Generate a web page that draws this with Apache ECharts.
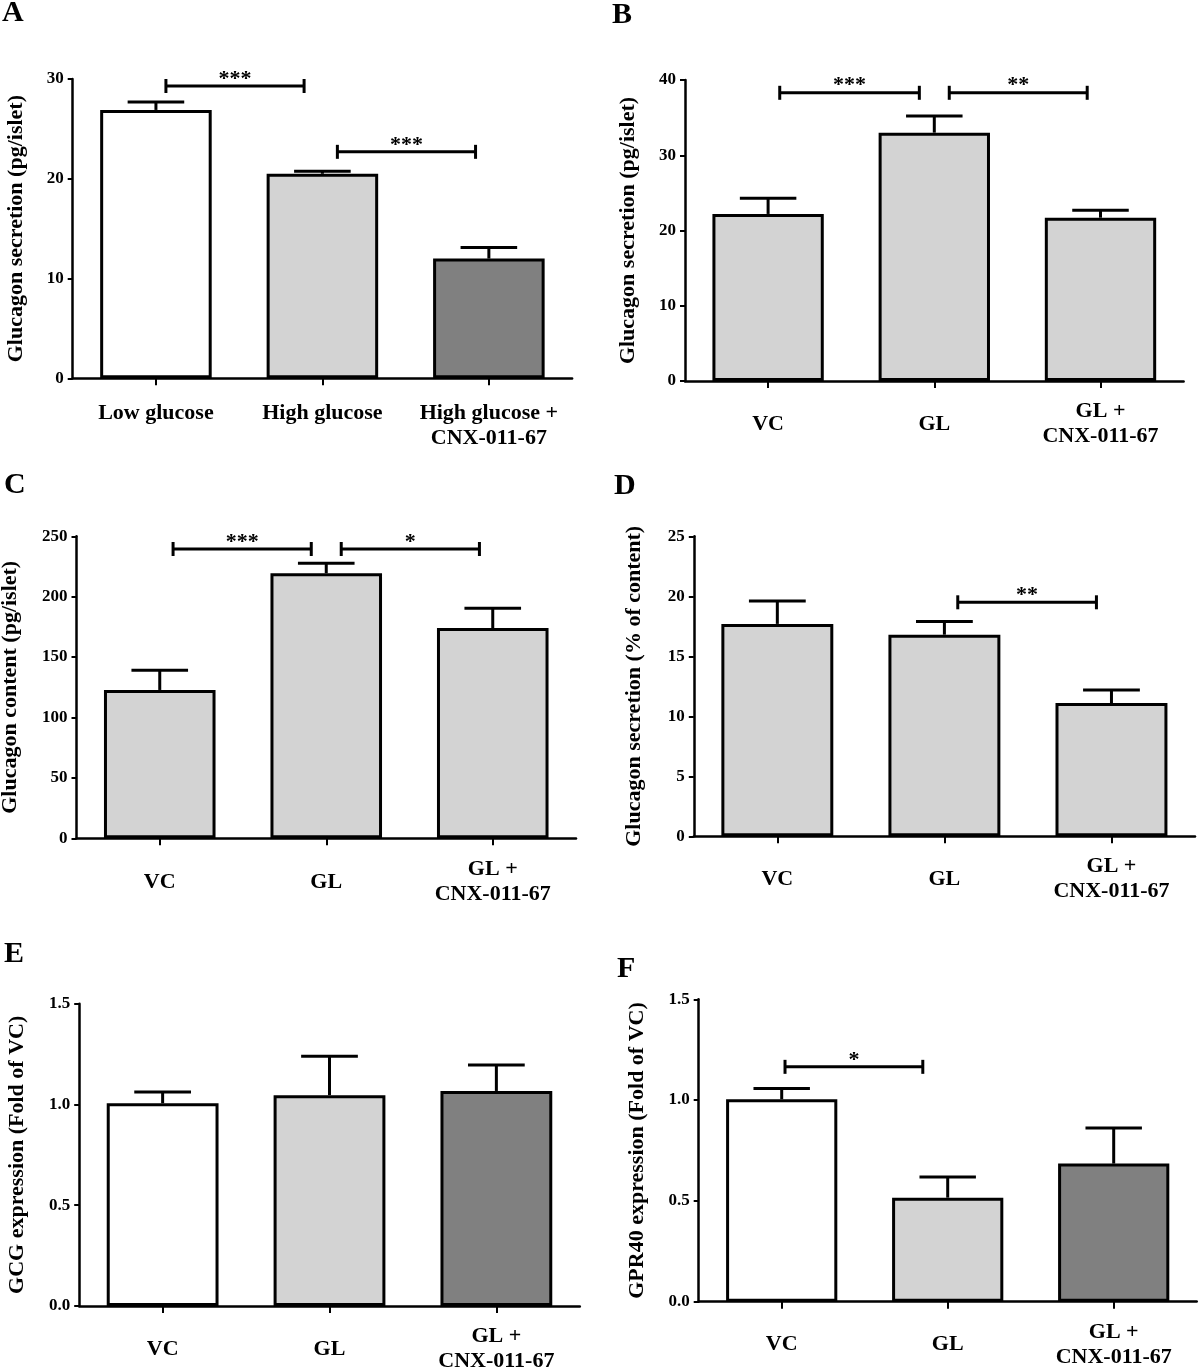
<!DOCTYPE html>
<html><head><meta charset="utf-8">
<script src="https://cdn.jsdelivr.net/npm/echarts@6/dist/echarts.min.js"></script>
<style>html,body{margin:0;padding:0;background:#fff}#c{width:1200px;height:1369px}</style>
</head><body><div id="c"></div>
<script>
// ---------- data ----------
const catsA = ['Low glucose', 'High glucose', 'High glucose +\nCNX-011-67'];
const catsGL = ['VC', 'GL', 'GL +\nCNX-011-67'];

const meanA = [26.9, 20.5, 12.0];     const semA = [0.8, 0.25, 1.1];
const meanB = [22.2, 33.0, 21.7];     const semB = [2.1, 2.2, 1.0];
const meanC = [122.8, 219.4, 174.1];  const semC = [16.3, 8.2, 16.3];
const meanD = [17.7, 16.8, 11.1];     const semD = [1.9, 1.1, 1.1];
const meanE = [1.006, 1.046, 1.067];  const semE = [0.056, 0.193, 0.129];
const meanF = [1.004, 0.516, 0.685];  const semF = [0.053, 0.103, 0.177];

const ticksA = [0, 10, 20, 30];
const ticksB = [0, 10, 20, 30, 40];
const ticksC = [0, 50, 100, 150, 200, 250];
const ticksD = [0, 5, 10, 15, 20, 25];
const ticksE = [0, 0.5, 1.0, 1.5];
const ticksF = [0, 0.5, 1.0, 1.5];

// significance brackets: [from (category units), to (category units), level, label]
const sigA = [[0.06, 0.89, 29.3, '***'], [1.09, 1.92, 22.7, '***']];
const sigB = [[0.07, 0.91, 38.3, '***'], [1.09, 1.92, 38.3, '**']];
const sigC = [[0.08, 0.91, 239.5, '***'], [1.09, 1.92, 239.5, '*']];
const sigD = [[1.08, 1.91, 19.5, '**']];
const sigE = [];
const sigF = [[0.02, 0.85, 1.165, '*']];

// ---------- styles ----------
const FONT = '"Liberation Serif", "Times New Roman", serif';
const WHITE = '#ffffff', LIGHT = '#d3d3d3', DARK = '#808080';

const panels = [
  {letter:'A', lx:2, ly:15, cats:catsA, mean:meanA, sem:semA, sig:sigA, ticks:ticksA, dec:0,
   fills:[WHITE, LIGHT, DARK], name:'Glucagon secretion (pg/islet)', nameGap:45,
   grid:{left:72.7, top:79, width:499.4, height:299.3}, va:'top', lm:23},
  {letter:'B', lx:612, ly:17, cats:catsGL, mean:meanB, sem:semB, sig:sigB, ticks:ticksB, dec:0,
   fills:[LIGHT, LIGHT, LIGHT], name:'Glucagon secretion (pg/islet)', nameGap:46,
   grid:{left:685, top:80, width:498.6, height:301}, va:'middle', lm:43},
  {letter:'C', lx:4, ly:487, cats:catsGL, mean:meanC, sem:semC, sig:sigC, ticks:ticksC, dec:0,
   fills:[LIGHT, LIGHT, LIGHT], name:'Glucagon content (pg/islet)', nameGap:55,
   grid:{left:76.5, top:536.3, width:499.5, height:302}, va:'middle', lm:44},
  {letter:'D', lx:614, ly:488, cats:catsGL, mean:meanD, sem:semD, sig:sigD, ticks:ticksD, dec:0,
   fills:[LIGHT, LIGHT, LIGHT], name:'Glucagon secretion (% of content)', nameGap:48,
   grid:{left:693.8, top:536.3, width:501.2, height:300}, va:'middle', lm:43},
  {letter:'E', lx:4, ly:956, cats:catsGL, mean:meanE, sem:semE, sig:sigE, ticks:ticksE, dec:1,
   fills:[WHITE, LIGHT, DARK], name:'GCG expression (Fold of VC)', nameGap:51,
   grid:{left:79.2, top:1003.7, width:500.6, height:302.3}, va:'middle', lm:43},
  {letter:'F', lx:617, ly:971, cats:catsGL, mean:meanF, sem:semF, sig:sigF, ticks:ticksF, dec:1,
   fills:[WHITE, LIGHT, DARK], name:'GPR40 expression (Fold of VC)', nameGap:50,
   grid:{left:698.7, top:999.3, width:498, height:302.4}, va:'middle', lm:43}
];

function errRender(mean, sem) {
  return function (params, api) {
    const i = params.dataIndex;
    const base = api.coord([i, mean[i]]);
    const top = api.coord([i, mean[i] + sem[i]]);
    const band = api.size([1, 0])[0];
    const hw = band * 0.17;
    const st = {stroke:'#000', lineWidth:3};
    return {type:'group', children:[
      {type:'line', shape:{x1:base[0], y1:base[1], x2:top[0], y2:top[1]}, style:st},
      {type:'line', shape:{x1:top[0]-hw, y1:top[1], x2:top[0]+hw, y2:top[1]}, style:st}
    ]};
  };
}
function sigRender(sig) {
  return function (params, api) {
    const b = sig[params.dataIndex];
    const o = api.coord([0, b[2]]);
    const band = api.size([1, 0])[0];
    const x1 = o[0] + b[0] * band, x2 = o[0] + b[1] * band, y = o[1];
    const st = {stroke:'#000', lineWidth:3};
    return {type:'group', children:[
      {type:'line', shape:{x1:x1, y1:y, x2:x2, y2:y}, style:st},
      {type:'line', shape:{x1:x1, y1:y-7, x2:x1, y2:y+7}, style:st},
      {type:'line', shape:{x1:x2, y1:y-7, x2:x2, y2:y+7}, style:st},
      {type:'text', style:{x:(x1+x2)/2, y:y-7, text:b[3], fill:'#000',
        font:'bold 22px ' + FONT, align:'center', verticalAlign:'middle'}}
    ]};
  };
}

const option = {
  animation:false, backgroundColor:'#fff',
  grid:[], xAxis:[], yAxis:[], series:[], graphic:[]
};
panels.forEach((p, k) => {
  option.grid.push(Object.assign({containLabel:false, outerBoundsMode:'none'}, p.grid));
  option.xAxis.push({
    type:'category', gridIndex:k, data:p.cats,
    axisLine:{show:true, lineStyle:{color:'#000', width:2.5}},
    axisTick:{show:true, alignWithLabel:true, length:7, lineStyle:{color:'#000', width:2}},
    axisLabel:{interval:0, color:'#000', fontFamily:FONT, fontWeight:'bold', fontSize:22,
      lineHeight:25, margin:p.lm, verticalAlign:p.va},
    splitLine:{show:false}
  });
  option.yAxis.push({
    type:'value', gridIndex:k, min:p.ticks[0], max:p.ticks[p.ticks.length-1],
    interval:p.ticks[1]-p.ticks[0],
    name:p.name, nameLocation:'middle', nameGap:p.nameGap,
    nameTextStyle:{color:'#000', fontFamily:FONT, fontWeight:'bold', fontSize:22},
    axisLine:{show:true, lineStyle:{color:'#000', width:2.5}},
    axisTick:{show:true, length:5, lineStyle:{color:'#000', width:2}},
    axisLabel:{color:'#000', fontFamily:FONT, fontWeight:'bold', fontSize:17, margin:9,
      formatter:(v) => v.toFixed(p.dec)},
    splitLine:{show:false}
  });
  option.series.push({
    type:'bar', xAxisIndex:k, yAxisIndex:k, barCategoryGap:'33%', z:2,
    itemStyle:{borderColor:'#000', borderWidth:3},
    data:p.mean.map((v, i) => ({value:v, itemStyle:{color:p.fills[i]}}))
  });
  option.series.push({
    type:'custom', xAxisIndex:k, yAxisIndex:k, z:3,
    renderItem:errRender(p.mean, p.sem),
    data:p.mean.map((v, i) => [i, v + p.sem[i]])
  });
  if (p.sig.length) {
    option.series.push({
      type:'custom', xAxisIndex:k, yAxisIndex:k, z:3,
      renderItem:sigRender(p.sig),
      data:p.sig.map(b => [Math.round(b[0]), b[2]])
    });
  }
  option.graphic.push({type:'text', left:p.lx, top:p.ly - 17,
    style:{text:p.letter, fill:'#000', font:'bold 30px ' + FONT}});
});

const chart = echarts.init(document.getElementById('c'), null, {renderer:'canvas', width:1200, height:1369});
chart.setOption(option);
</script></body></html>
